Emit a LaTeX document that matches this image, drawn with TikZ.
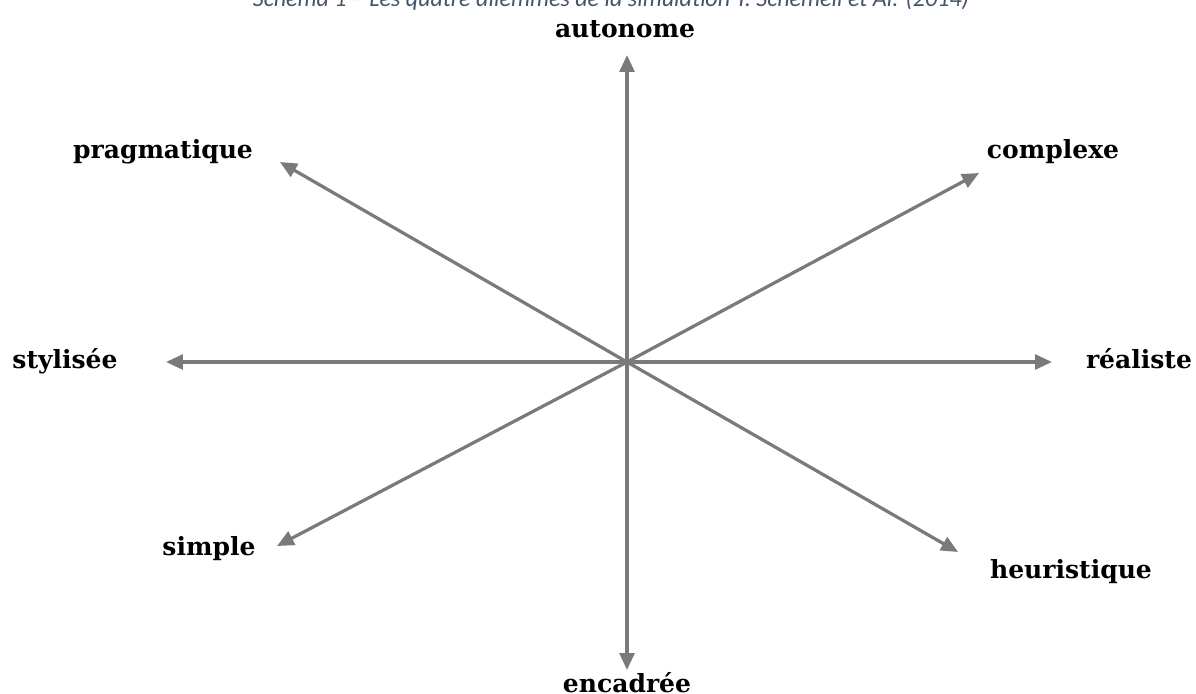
\documentclass[tikz,border=0pt]{standalone}
\usepackage{fontspec}
\setmainfont{DejaVu Serif}
\newfontfamily\legfont{Carlito}
\usepackage{tikz}
\usetikzlibrary{arrows.meta,positioning}
\definecolor{axegris}{HTML}{7A7A7A}
\definecolor{legbleu}{HTML}{44546A}

\begin{document}
\begin{tikzpicture}[
			x=0.025cm,y=-0.025cm,
			pole/.style={font=\fontsize{17.8}{20}\selectfont\bfseries,inner sep=0pt,anchor=base},
			legende/.style={font=\legfont\itshape\fontsize{17.1}{20}\selectfont,text=legbleu,inner sep=0pt,anchor=base},
			axe/.style={-{Triangle[length=12pt,width=10.5pt]},line width=2.3pt,axegris}
			]
			\useasboundingbox (0,0) rectangle (1196,693);
			\clip (0,0) rectangle (1196,693);
			\node[legende] (leg) at (611,6) {Schéma 1 – Les quatre dilemmes de la simulation Y. Schemeil et Al. (2014)};
			\coordinate (c) at (627,362);
			\node[pole] (aut) at (625,37) {autonome};
			\node[pole] (enc) at (627,692) {encadrée};
			\node[pole] (sty) at (65,368) {stylisée};
			\node[pole] (rea) at (1139,368) {réaliste};
			\node[pole] (pra) at (163,158) {pragmatique};
			\node[pole] (com) at (1053,158) {complexe};
			\node[pole] (sim) at (209,555) {simple};
			\node[pole] (heu) at (1071,578) {heuristique};
			\coordinate (tAut) at (627,55);
			\coordinate (tEnc) at (627,670);
			\coordinate (tSty) at (166,362);
			\coordinate (tRea) at (1052,362);
			\coordinate (tPra) at (280,162);
			\coordinate (tCom) at (979,173);
			\coordinate (tSim) at (277,546);
			\coordinate (tHeu) at (958,552);
			\draw[axe] (c)--(tAut);
			\draw[axe] (c)--(tEnc);
			\draw[axe] (c)--(tSty);
			\draw[axe] (c)--(tRea);
			\draw[axe] (c)--(tPra);
			\draw[axe] (c)--(tCom);
			\draw[axe] (c)--(tSim);
			\draw[axe] (c)--(tHeu);
		\end{tikzpicture}
\end{document}
